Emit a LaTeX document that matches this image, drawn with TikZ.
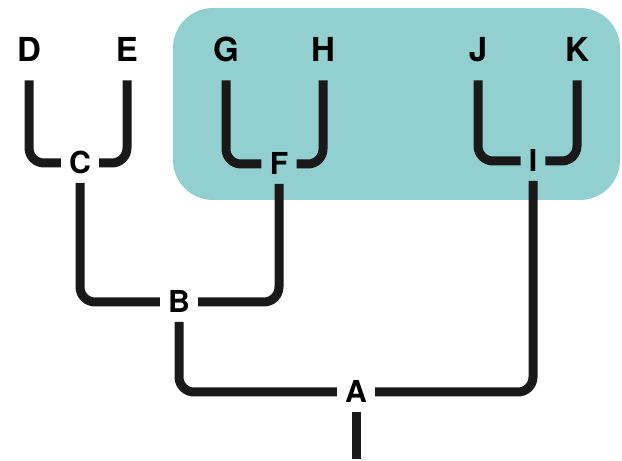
\documentclass[tikz,border=0pt]{standalone}
\usepackage{fontspec}
\setmainfont{TeX Gyre Heros}
\usepackage{tikz}
\usetikzlibrary{backgrounds}
\definecolor{cladeteal}{RGB}{145,208,207}
\newcommand{\boxcolor}{cladeteal}
\newcommand{\branch}{0.225cm}
\newcommand{\bend}{0.375cm}

\tikzset{
  taxon/.style={inner xsep=0.1cm, inner ysep=0.45cm, text height=0.6cm, text depth=0cm,
    font=\bfseries\fontsize{23.5}{27}\selectfont},
  clade/.style={inner xsep=0.2cm, inner ysep=0.22cm, text height=0.54cm, text depth=0cm,
    font=\bfseries\fontsize{21.5}{25}\selectfont},
  branch/.style={line width=\branch, rounded corners=\bend, color=black!90}
}

\begin{document}
\begin{tikzpicture}
\useasboundingbox (0,0) rectangle (15.55,11.525);
\node[taxon] (D) at (0.725, 10.275) {D};
\node[taxon] (E) at (3.175, 10.275) {E};
\node[taxon] (G) at (5.65, 10.275) {G};
\node[taxon] (H) at (8.075, 10.275) {H};
\node[taxon] (J) at (11.95, 10.275) {J};
\node[taxon] (K) at (14.425, 10.275) {K};
\node[clade] (C) at (2.0, 7.45) {C};
\node[clade] (F) at (6.975, 7.425) {F};
\node[clade] (I) at (13.325, 7.5) {I};
\node[clade] (B) at (4.475, 3.975) {B};
\node[clade] (A) at (8.9, 1.725) {A};
\coordinate (root) at (8.9, 0.05);
%FGHIJK
\begin{scope}[on background layer]
\fill[\boxcolor, rounded corners=1cm] (4.325, 6.525) rectangle (15.5, 11.325);
\end{scope}
%CDE
\draw[branch] (D) |- (C);
\draw[branch] (E) |- (C);
%FGH
\draw[branch] (G) |- (F);
\draw[branch] (H) |- (F);
%IJK
\draw[branch] (J) |- (I);
\draw[branch] (K) |- (I);
%B
\draw[branch] (C) |- (B);
\draw[branch] (F) |- (B);
%A
\draw[branch] (B) |- (A);
\draw[branch] (I) |- (A);
\draw[branch] (A) -- (root);
\end{tikzpicture}
\end{document}
